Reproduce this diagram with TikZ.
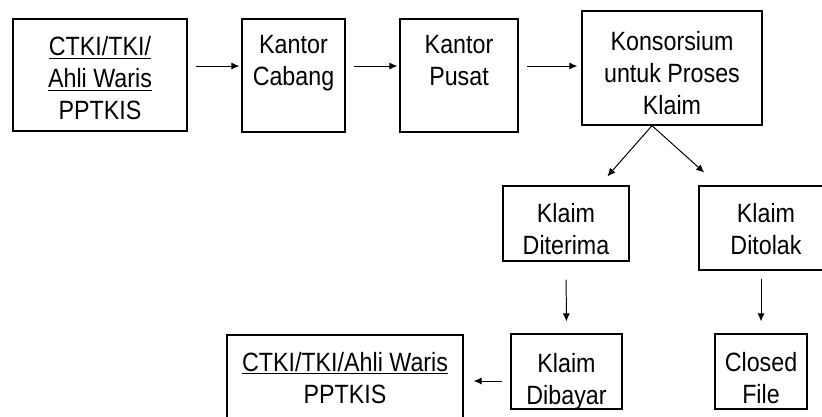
\documentclass[tikz,border=0pt]{standalone}
\usepackage{fontspec}
\setmainfont[FakeStretch=0.88]{Liberation Sans}
\usetikzlibrary{arrows.meta}

\begin{document}
\begin{tikzpicture}[x=0.025cm, y=-0.025cm,
    kotak/.style={draw, line width=0.9pt, inner sep=0pt},
    teks/.style={anchor=north, align=center, inner sep=0pt,
      font={\fontsize{18.8}{22.7}\selectfont}},
    panah/.style={line width=0.7pt, -{Latex[length=2mm, width=1.8mm]}}]
    \useasboundingbox (0,0) rectangle (822,416);

    % baris atas
    \node[kotak, minimum width=4.35cm, minimum height=2.8cm] (ctki) at (100,75) {};
    \node[kotak, minimum width=2.575cm, minimum height=2.825cm] (cabang) at (293.5,75.5) {};
    \node[kotak, minimum width=2.95cm, minimum height=2.825cm] (pusat) at (459,75.5) {};
    \node[kotak, minimum width=4.5cm, minimum height=2.85cm] (konsor) at (672,68) {};

    \node[teks] (tctki) at (100,36.5) {\underline{CTKI/TKI/}\\\underline{Ahli Waris}\\PPTKIS};
    \node[teks] (tcabang) at (293.5,35) {Kantor\\Cabang};
    \node[teks] (tpusat) at (459,35) {Kantor\\Pusat};
    \node[teks] (tkonsor) at (672,31) {Konsorsium\\untuk Proses\\Klaim};

    % klaim
    \node[kotak, minimum width=3.15cm, minimum height=1.875cm] (terima) at (566,223.5) {};
    \node[kotak, minimum width=3.35cm, minimum height=2.1cm] (tolak) at (766,228) {};
    \node[kotak, minimum width=2.775cm, minimum height=1.875cm] (bayar) at (566.5,371.5) {};
    \node[kotak, minimum width=2.3cm, minimum height=1.875cm] (closed) at (761,371.5) {};
    \node[kotak, minimum width=5.9cm, minimum height=2.25cm] (ctkib) at (345,380) {};

    \node[teks] (tterima) at (566,203) {Klaim\\Diterima};
    \node[teks] (ttolak) at (766,203) {Klaim\\Ditolak};
    \node[teks] (tbayar) at (566.5,353) {Klaim\\Dibayar};
    \node[teks] (tclosed) at (761,352) {Closed\\File};
    \node[teks] (tctkib) at (345,352) {\underline{CTKI/TKI/Ahli Waris}\\PPTKIS};

    % panah
    \coordinate (baris) at (0,66);
    \coordinate (baris2) at (0,381);
    \coordinate (pisah) at ([xshift=-0.5cm]konsor.south);

    \draw[panah, shorten <=0.2cm, shorten >=0.05cm] (ctki.east |- baris) -- (cabang.west |- baris);
    \draw[panah, shorten <=0.2cm, shorten >=0.05cm] (cabang.east |- baris) -- (pusat.west |- baris);
    \draw[panah, shorten <=0.22cm, shorten >=0.1cm] (pusat.east |- baris) -- (konsor.west |- baris);

    \draw[panah, shorten >=0.3cm] (pisah) -- (terima);
    \draw[panah, shorten >=0.48cm] (pisah) -- (tolak);

    \draw[panah, shorten <=0.45cm, shorten >=0.3cm] (terima.south) -- (bayar.north);
    \draw[panah, shorten <=0.22cm, shorten >=0.3cm] (closed.north |- tolak.south) -- (closed.north);
    \draw[panah, shorten <=0.22cm, shorten >=0.25cm] (bayar.west |- baris2) -- (ctkib.east |- baris2);

\end{tikzpicture}
\end{document}
